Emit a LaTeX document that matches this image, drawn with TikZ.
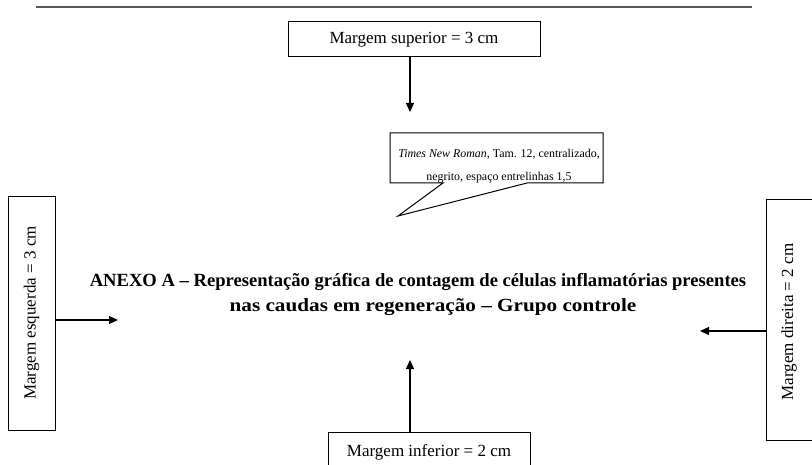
\documentclass[tikz,border=0pt]{standalone}
\usepackage{fontspec}
\setmainfont{Liberation Serif}
\usetikzlibrary{arrows.meta}
\begin{document}
\begin{tikzpicture}[x=1pt,y=-1pt,
  marginbox/.style={draw=black,line width=1pt,fill=white},
  labeltext/.style={font=\fontsize{17}{20}\selectfont,inner sep=0pt},
  pointer/.style={draw=black,line width=1.2pt,-{Triangle[length=9pt,width=8pt]}},
  titletext/.style={font=\fontsize{18.6}{22}\selectfont\bfseries,inner sep=0pt},
  notetext/.style={font=\fontsize{11.9}{14}\selectfont,inner sep=0pt,anchor=base}]
\useasboundingbox (0,0) rectangle (812,465);
\clip (0,0) rectangle (812,465);

% rule at the top of the page
\draw[line width=1.6pt,gray!70!black] (36,7) coordinate (ruleL) -- (752,7) coordinate (ruleR);

% top margin
\draw[marginbox] (288,22) rectangle (540,57);
\node[labeltext] (sup) at (414,39.5) {Margem superior = 3 cm};
\coordinate (supfoot) at (410,57);
\coordinate (suptip) at (410,112);
\draw[pointer] (supfoot) -- (suptip);

% callout with the font note; its second line is cut by the frame
\draw[marginbox,line join=miter] (390,133) -- (603,133) -- (603,183) -- (527,183)
  -- (398,216) -- (443,183) -- (390,183) -- cycle;
\begin{scope}
  \clip (390,133) rectangle (603,183);
  \node[notetext] (note1) at (499,158) {\textit{Times New Roman}, Tam. 12, centralizado,};
  \node[notetext] (note2) at (499,181) {negrito, espaço entrelinhas 1,5};
\end{scope}

% title
\node[titletext] (title1) at (418,282) {ANEXO A – Representação gráfica de contagem de células inflamatórias presentes};
\node[titletext,xscale=1.14] (title2) at (433,307) {nas caudas em regeneração – Grupo controle};

% left margin
\draw[marginbox] (8,197) rectangle (55,430);
\node[labeltext,rotate=90] (esq) at (31.5,313) {Margem esquerda = 3 cm};
\coordinate (esqfoot) at (55,320);
\coordinate (esqtip) at (118,320);
\draw[pointer] (esqfoot) -- (esqtip);

% right margin
\draw[marginbox] (766,200) rectangle (830,440);
\node[labeltext,rotate=90] (dir) at (789,322) {Margem direita = 2 cm};
\coordinate (dirfoot) at (766,331);
\coordinate (dirtip) at (700,331);
\draw[pointer] (dirfoot) -- (dirtip);

% bottom margin
\draw[marginbox] (328,432) rectangle (530,480);
\node[labeltext] (inf) at (429,452) {Margem inferior = 2 cm};
\coordinate (inffoot) at (410,432);
\coordinate (inftip) at (410,360);
\draw[pointer] (inffoot) -- (inftip);
\end{tikzpicture}
\end{document}
